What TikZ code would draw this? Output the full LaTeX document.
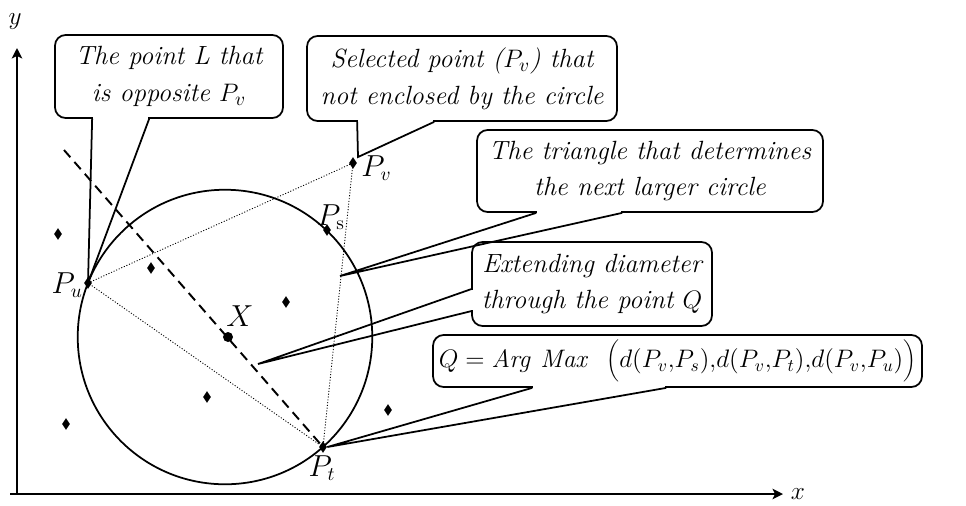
\documentclass[tikz,border=0pt]{standalone}
\usetikzlibrary{arrows.meta,calc,shapes.geometric}

\begin{document}
\begin{tikzpicture}[x=0.02cm, y=-0.02cm,
    callout/.style={rectangle, rounded corners=6pt, draw, line width=1pt, fill=white,
                    align=center, inner sep=0pt, font=\fontsize{15}{21}\selectfont\itshape},
    pointer/.style={line width=1pt, line join=miter},
    gap/.style={white, line width=1.8pt},
    pt/.style={diamond, fill, inner sep=0pt, minimum width=0.16cm, minimum height=0.24cm},
    plabel/.style={inner sep=0pt, font=\fontsize{16}{16}\selectfont},
    axlabel/.style={inner sep=0pt, font=\fontsize{15}{15}\selectfont},
    axis/.style={line width=1pt, -{Stealth[length=6pt,width=6pt,inset=1.5pt]}}
]
    \useasboundingbox (0,0) rectangle (966,505);

    % axes
    \coordinate (xbeg) at (10,494);
    \coordinate (xend) at (783,494);
    \coordinate (ybeg) at (17,494);
    \coordinate (yend) at (17,48);
    \draw[axis] (xbeg) -- (xend);
    \draw[axis] (ybeg) -- (yend);
    \node[axlabel] (xlab) at (798,494) {$x$};
    \node[axlabel] (ylab) at (15,22) {$y$};

    % circle
    \coordinate (c) at (225,337);
    \draw[line width=1pt] (c) circle [radius=2.946cm];

    % points
    \node[pt] (Pu) at (88,283) {};
    \node[pt] (Pv) at (353,163) {};
    \node[pt] (Ps) at (327,230) {};
    \node[pt] (Pt) at (323,447) {};
    \node[pt] (q1) at (58,234) {};
    \node[pt] (q2) at (151,268) {};
    \node[pt] (q3) at (286,302) {};
    \node[pt] (q4) at (207,397) {};
    \node[pt] (q5) at (66,424) {};
    \node[pt] (q6) at (388,410) {};
    \node[circle, fill, inner sep=0pt, minimum size=0.2cm] (X) at (228,337) {};

    % triangle and diameter
    \draw[line width=0.5pt, dash pattern=on 0.6pt off 1pt] (Pu.center) -- (Pv.center) -- (Pt.center) -- cycle;
    \coordinate (dtop) at (64,150);
    \draw[line width=1.1pt, dash pattern=on 5.5pt off 3.5pt] (dtop) -- (Pt.center);

    % point labels
    \node[plabel, anchor=east] (lPu) at (83,285) {$P_u$};
    \node[plabel, anchor=west] (lPv) at (361,168) {$P_v$};
    \node[plabel] (lPs) at (331,217) {$P_{\mathrm{s}}$};
    \node[plabel] (lPt) at (322,468) {$P_t$};
    \node[inner sep=0pt, font=\fontsize{19}{19}\selectfont] (lX) at (240,316) {$X$};

    % callouts
    \node[callout, minimum width=4.56cm, minimum height=1.66cm] (bL) at (169,76.5)
        {The point L that\\is opposite $P_v$};
    \node[callout, minimum width=6.2cm, minimum height=1.7cm] (bV) at (462,78.5)
        {Selected point ($P_v$) that\\not enclosed by the circle};
    \node[callout, minimum width=6.92cm, minimum height=1.64cm] (bT) at (650,171)
        {The triangle that determines\\the next larger circle};
    \node[callout, minimum width=4.8cm, minimum height=1.68cm] (bE) at (592,284)
        {Extending diameter\\through the point $Q$};
    \node[callout, minimum width=9.78cm, minimum height=1.04cm, font=\fontsize{14.5}{18}\selectfont] (bQ) at (677.5,361)
        {$Q = \mathit{Arg}\ \mathit{Max}\ \ \biggl(d(P_v{,}P_s){,}d(P_v{,}P_t){,}d(P_v{,}P_u)\biggr)$};

    % pointers
    \coordinate (tipV) at (358,157);
    \coordinate (tipT) at (340,276);
    \coordinate (tipE) at (258,364);

    \draw[gap] ($(bL.south west)+(39,0)$) -- ($(bL.south west)+(94,0)$);
    \draw[pointer] ($(bL.south west)+(38,0)$) -- (Pu.center) -- ($(bL.south west)+(95,0)$);

    \draw[gap] ($(bV.south west)+(52,0)$) -- ($(bV.south west)+(127,0)$);
    \draw[pointer] ($(bV.south west)+(51,0)$) -- (tipV) -- ($(bV.south west)+(128,0)$);

    \draw[gap] ($(bT.south west)+(61,0)$) -- ($(bT.south west)+(145,0)$);
    \draw[pointer] ($(bT.south west)+(60,0)$) -- (tipT) -- ($(bT.south west)+(146,0)$);

    \draw[gap] ($(bE.north west)+(0,49)$) -- ($(bE.north west)+(0,69)$);
    \draw[pointer] ($(bE.north west)+(0,48)$) -- (tipE) -- ($(bE.north west)+(0,70)$);

    \draw[gap] ($(bQ.south west)+(101,0)$) -- ($(bQ.south west)+(233,0)$);
    \draw[pointer] ($(bQ.south west)+(100,0)$) -- (Pt.east) -- ($(bQ.south west)+(234,0)$);
\end{tikzpicture}
\end{document}
